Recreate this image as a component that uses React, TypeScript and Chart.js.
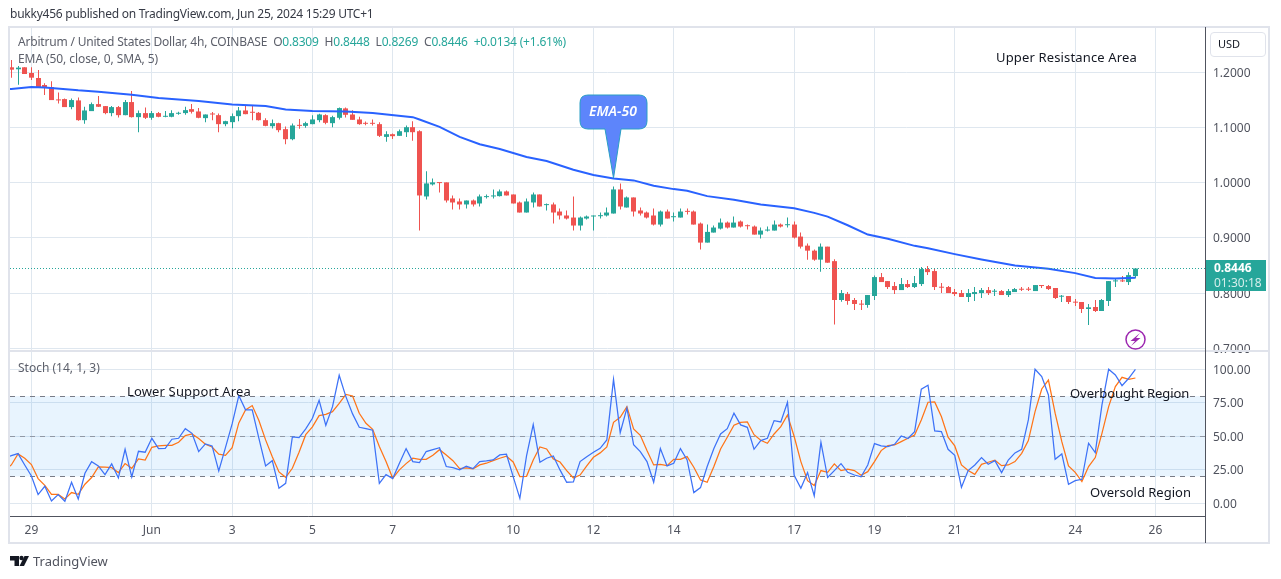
import { useEffect, useRef } from 'react';
import Chart from 'chart.js/auto';

const opens = [
  1.2091,1.2055,1.2091,1.1988,1.1897,1.1770,1.1733,1.1509,1.1515,1.1370,
  1.1491,1.1133,1.1297,1.1424,1.1388,1.1261,1.1370,1.1224,1.1461,1.1188,
  1.1261,1.1176,1.1261,1.1194,1.1194,1.1249,1.1261,1.1333,1.1291,1.1170,
  1.1242,1.1224,1.1061,1.1097,1.1206,1.1309,1.1279,1.1267,1.1133,1.1024,
  1.1079,1.0970,1.0788,1.1043,1.1030,1.1061,1.1133,1.1224,1.1079,1.1176,
  1.1346,1.1236,1.1146,1.1079,1.1079,1.1061,1.0830,1.0879,1.0849,1.0915,
  1.1006,1.0933,0.9751,0.9969,1.0006,1.0006,0.9715,0.9660,0.9606,0.9678,
  0.9624,0.9739,0.9751,0.9757,0.9842,0.9787,0.9642,0.9460,0.9642,0.9787,
  0.9594,0.9606,0.9478,0.9406,0.9369,0.9224,0.9351,0.9388,0.9393,0.9406,
  0.9442,0.9878,0.9551,0.9733,0.9497,0.9460,0.9406,0.9242,0.9478,0.9375,
  0.9369,0.9484,0.9478,0.9260,0.8915,0.9097,0.9169,0.9278,0.9188,0.9297,
  0.9224,0.9206,0.9060,0.9133,0.9133,0.9242,0.9230,0.9242,0.9024,0.8860,
  0.8769,0.8606,0.8842,0.8579,0.7875,0.7983,0.7875,0.7803,0.7785,0.7947,
  0.8290,0.8218,0.8128,0.8055,0.8164,0.8110,0.8164,0.8435,0.8399,0.8110,
  0.8110,0.8019,0.8001,0.7929,0.7983,0.8001,0.8055,0.8025,0.8037,0.7965,
  0.8019,0.8073,0.8073,0.8037,0.8140,0.8128,0.8092,0.7935,0.7947,0.7839,
  0.7839,0.7712,0.7748,0.7676,0.7857,0.8212,0.8224,0.8200,0.8309,
];
const highs = [
  1.2224,1.2115,1.2091,1.2091,1.2042,1.1800,1.1836,1.1636,1.1527,1.1527,
  1.1545,1.1376,1.1455,1.1570,1.1388,1.1388,1.1388,1.1497,1.1661,1.1309,
  1.1364,1.1297,1.1279,1.1297,1.1315,1.1285,1.1376,1.1424,1.1352,1.1236,
  1.1279,1.1255,1.1121,1.1255,1.1370,1.1400,1.1388,1.1279,1.1170,1.1146,
  1.1085,1.1018,1.1073,1.1152,1.1103,1.1224,1.1249,1.1242,1.1212,1.1364,
  1.1364,1.1315,1.1194,1.1109,1.1146,1.1097,1.0933,1.0891,1.0964,1.1036,
  1.1115,1.0951,1.0206,1.0078,1.0006,1.0006,0.9769,0.9715,0.9678,0.9697,
  0.9787,0.9787,0.9878,0.9878,0.9860,0.9787,0.9660,0.9715,0.9824,0.9787,
  0.9624,0.9642,0.9533,0.9497,0.9751,0.9388,0.9406,0.9406,0.9460,0.9551,
  0.9933,0.9987,0.9751,0.9733,0.9551,0.9478,0.9533,0.9497,0.9515,0.9460,
  0.9533,0.9533,0.9497,0.9278,0.9242,0.9224,0.9351,0.9297,0.9388,0.9315,
  0.9242,0.9224,0.9188,0.9206,0.9315,0.9260,0.9369,0.9297,0.9097,0.8897,
  0.8788,0.8897,0.8842,0.8615,0.8055,0.8019,0.7911,0.7875,0.7965,0.8320,
  0.8362,0.8218,0.8200,0.8272,0.8236,0.8308,0.8471,0.8489,0.8435,0.8182,
  0.8128,0.8073,0.8055,0.8073,0.8110,0.8092,0.8110,0.8073,0.8055,0.8073,
  0.8092,0.8110,0.8110,0.8146,0.8146,0.8146,0.8092,0.7965,0.7947,0.7893,
  0.7839,0.7803,0.7875,0.7893,0.8218,0.8254,0.8308,0.8380,0.8448,
];
const lows = [
  1.1903,1.1776,1.1970,1.1861,1.1727,1.1588,1.1497,1.1436,1.1370,1.1333,
  1.1121,1.1067,1.1297,1.1370,1.1242,1.1206,1.1182,1.1224,1.1182,1.0915,
  1.1152,1.1139,1.1188,1.1188,1.1188,1.1230,1.1230,1.1255,1.1170,1.1097,
  1.1133,1.0915,1.1024,1.0988,1.1115,1.1242,1.1133,1.1127,1.1024,1.0982,
  1.0915,1.0697,1.0770,1.0976,1.0994,1.1061,1.1097,1.1061,1.1006,1.1146,
  1.1182,1.1139,1.1049,1.1043,1.1036,1.0830,1.0740,1.0794,1.0849,1.0830,
  1.0758,0.9133,0.9697,0.9951,0.9824,0.9642,0.9515,0.9515,0.9533,0.9569,
  0.9569,0.9715,0.9715,0.9751,0.9769,0.9624,0.9460,0.9460,0.9551,0.9569,
  0.9497,0.9260,0.9333,0.9333,0.9133,0.9133,0.9333,0.9133,0.9351,0.9388,
  0.9442,0.9515,0.9551,0.9388,0.9406,0.9351,0.9224,0.9206,0.9351,0.9297,
  0.9369,0.9424,0.9242,0.8788,0.8915,0.9097,0.9151,0.9169,0.9188,0.9188,
  0.9151,0.9060,0.8988,0.9115,0.9133,0.9188,0.9188,0.8988,0.8806,0.8606,
  0.8588,0.8388,0.8551,0.7429,0.7845,0.7790,0.7694,0.7694,0.7736,0.7875,
  0.8200,0.8073,0.7983,0.8055,0.8092,0.8092,0.8128,0.8326,0.8055,0.8001,
  0.8001,0.7947,0.7929,0.7839,0.7857,0.7911,0.7965,0.7947,0.7965,0.7929,
  0.8019,0.8037,0.8037,0.8037,0.8092,0.8055,0.7893,0.7839,0.7803,0.7766,
  0.7640,0.7423,0.7658,0.7676,0.7766,0.8110,0.8200,0.8146,0.8269,
];
const closes = [
  1.2048,1.2085,1.1970,1.1903,1.1727,1.1727,1.1497,1.1491,1.1370,1.1497,
  1.1133,1.1309,1.1424,1.1376,1.1261,1.1370,1.1224,1.1461,1.1188,1.1261,
  1.1176,1.1261,1.1194,1.1200,1.1261,1.1267,1.1315,1.1285,1.1176,1.1236,
  1.1236,1.1061,1.1115,1.1206,1.1309,1.1242,1.1267,1.1133,1.1030,1.1079,
  1.0952,1.0788,1.1037,1.1030,1.1079,1.1146,1.1236,1.1085,1.1188,1.1352,
  1.1230,1.1139,1.1061,1.1067,1.1067,1.0849,1.0879,1.0843,1.0933,1.1006,
  1.0915,0.9769,0.9987,1.0006,0.9993,0.9678,0.9642,0.9606,0.9678,0.9606,
  0.9751,0.9757,0.9769,0.9842,0.9769,0.9624,0.9460,0.9660,0.9787,0.9569,
  0.9606,0.9460,0.9406,0.9351,0.9224,0.9369,0.9388,0.9400,0.9412,0.9460,
  0.9878,0.9569,0.9733,0.9478,0.9442,0.9369,0.9242,0.9478,0.9351,0.9388,
  0.9478,0.9472,0.9242,0.8915,0.9109,0.9188,0.9278,0.9188,0.9278,0.9206,
  0.9212,0.9060,0.9133,0.9151,0.9242,0.9206,0.9242,0.9006,0.8842,0.8769,
  0.8606,0.8842,0.8551,0.7875,0.8001,0.7857,0.7803,0.7791,0.7965,0.8290,
  0.8200,0.8110,0.8055,0.8164,0.8110,0.8182,0.8435,0.8380,0.8110,0.8098,
  0.8001,0.7983,0.7929,0.8001,0.8019,0.8055,0.8001,0.8037,0.7965,0.8037,
  0.8073,0.8061,0.8061,0.8146,0.8128,0.8073,0.7911,0.7947,0.7839,0.7827,
  0.7712,0.7742,0.7676,0.7875,0.8218,0.8224,0.8212,0.8326,0.8446,
];

// EMA-50 read at the bars where the line bends
const emaBars = [-1,0,3,5,10,13,18,22,28,33,38,41,45,50,54,60,61,64,67,70,73,77,80,84,87,90,93,96,99,101,104,108,112,117,120,122,125,128,131,135,137,141,145,150,155,159,162,165,168];
const emaValues = [1.1690,1.1697,1.1733,1.1727,1.1673,1.1649,1.1594,1.1533,1.1479,1.1418,1.1388,1.1327,1.1297,1.1291,1.1261,1.1188,1.1145,1.1012,1.0830,1.0696,1.0612,1.0466,1.0393,1.0236,1.0139,1.0078,1.0042,0.9945,0.9884,0.9854,0.9757,0.9691,0.9606,0.9537,0.9454,0.9385,0.9229,0.9061,0.8983,0.8856,0.8814,0.8706,0.8609,0.8501,0.8441,0.8362,0.8272,0.8266,0.8278];

const stochK = [
  35.6,37.1,28.6,20.4,6.5,12.7,1.7,6.5,1.5,15.7,
  3.2,22.4,31.1,27.9,21.4,29.4,18.9,40.3,19.7,38.8,
  38.1,48.5,40.8,41.0,47.8,48.5,55.7,52.2,38.6,44.3,
  42.8,24.1,41.5,59.2,80.3,69.7,69.7,48.5,27.9,31.8,
  11.2,14.9,49.5,49.0,55.5,63.4,76.9,58.2,72.1,95.5,
  79.6,66.7,56.7,55.7,54.5,14.9,21.4,18.4,29.9,40.8,
  31.1,30.3,38.6,40.0,41.5,27.4,26.6,24.9,27.6,25.9,
  31.1,31.6,32.3,36.1,36.6,19.9,3.7,35.3,58.7,30.6,
  33.6,35.3,24.9,15.7,15.9,31.1,34.8,38.1,41.0,47.3,
  92.5,52.7,71.1,43.8,38.6,31.1,15.7,40.8,27.9,29.9,
  40.8,32.3,8.0,11.7,27.4,40.8,51.7,55.7,67.2,58.5,
  56.7,40.3,46.8,48.5,61.7,60.7,75.4,20.9,11.2,22.9,
  5.5,45.5,19.2,24.4,29.6,23.1,21.1,19.7,28.6,44.5,
  42.8,42.3,44.0,50.2,48.3,53.5,85.1,88.1,54.0,53.5,
  40.3,35.8,11.9,24.4,28.6,34.1,29.1,31.8,22.9,32.3,
  37.6,40.3,62.2,100,94.5,80.8,32.8,36.8,14.2,16.9,
  17.9,44.8,37.8,73.4,100,95.8,87.8,93.3,100,
];
const stochD = [
  28.6,36.8,33.6,28.9,18.4,13.4,6.7,6.7,3.2,8.0,
  6.7,14.2,19.2,27.1,26.9,26.6,22.9,29.6,26.1,33.1,
  32.3,41.8,42.8,43.3,43.3,45.5,50.5,51.7,48.3,44.0,
  42.0,36.6,35.8,41.5,60.0,69.7,72.9,61.7,47.3,34.8,
  23.4,19.4,26.1,38.1,51.2,57.0,65.4,66.4,68.4,74.6,
  81.3,80.1,67.2,59.7,55.2,42.3,31.1,18.7,24.9,29.6,
  33.6,32.8,32.8,35.8,40.0,36.1,31.8,25.9,26.4,25.6,
  28.6,29.9,31.8,33.6,35.1,30.8,19.9,20.1,32.3,42.0,
  40.5,33.1,30.8,24.4,18.9,21.1,27.9,34.3,37.6,42.0,
  60.4,64.2,72.1,55.5,50.7,39.3,28.6,29.1,28.1,32.8,
  32.8,34.8,26.9,17.4,15.7,27.4,40.5,49.3,58.2,60.4,
  60.7,51.2,47.0,44.8,51.7,57.2,65.9,49.8,31.1,16.9,
  13.2,24.4,23.1,29.4,24.4,25.4,24.4,20.9,23.6,31.1,
  39.3,43.0,43.5,46.0,48.5,51.0,62.2,75.4,75.6,64.7,
  49.3,42.8,28.6,24.4,21.6,29.1,30.6,32.1,28.1,28.6,
  31.1,37.3,46.8,68.4,85.3,92.0,67.2,46.0,27.9,23.1,
  16.2,27.4,34.1,52.2,72.1,87.1,94.0,92.5,93.5,
];
// the bar just off the left edge
const stochKBefore = 33.5;
const stochDBefore = 24.5;

const dateTickBars = [3,21,33,45,57,75,87,99,117,129,141,159,171];
const dateTickLabels = ['29','Jun','3','5','7','10','12','14','17','19','21','24','26'];
const priceTicks = [0.7,0.8,0.9,1.0,1.1,1.2];
const stochTicks = [0,25,50,75,100];
const stochLevels = [80,50,20];
const lastPrice = 0.8446;
const calloutBar = 90;
const calloutPrice = 1.0084;

const UP = '#26a69a';
const DOWN = '#ef5350';
const GRID = '#dfe7ef';
const FONT = '"Noto Sans", sans-serif';

const overlayPlugin = {
  id: 'overlay',
  // snap candles to whole pixels so bodies and wicks stay sharp
  afterDatasetsUpdate(chart: any) {
    chart.data.datasets.forEach((ds: any, idx: number) => {
      if (ds.type !== 'bar') return;
      chart.getDatasetMeta(idx).data.forEach((el: any) => {
        el.x = Math.floor(el.x) + 0.5;
      });
    });
  },
  beforeDatasetsDraw(chart: any) {
    const { ctx, chartArea, scales } = chart;
    const s = scales.yStoch;
    ctx.save();
    ctx.fillStyle = 'rgba(33,150,243,0.1)';
    ctx.fillRect(chartArea.left, s.getPixelForValue(80), chartArea.width, s.getPixelForValue(20) - s.getPixelForValue(80));
    ctx.strokeStyle = '#787b86';
    ctx.lineWidth = 1;
    ctx.setLineDash([5, 5]);
    stochLevels.forEach((lvl) => {
      const y = Math.round(s.getPixelForValue(lvl)) + 0.5;
      ctx.globalAlpha = lvl === 50 ? 0.7 : 1;
      ctx.beginPath();
      ctx.moveTo(chartArea.left, y);
      ctx.lineTo(chartArea.right, y);
      ctx.stroke();
    });
    ctx.restore();
  },
  afterDraw(chart: any) {
    const { ctx, chartArea, scales } = chart;
    const px = scales.x;
    const py = scales.yPrice;
    ctx.save();

    // last price line
    const lastY = Math.round(py.getPixelForValue(lastPrice)) + 0.5;
    ctx.strokeStyle = UP;
    ctx.lineWidth = 1;
    ctx.setLineDash([1, 2]);
    ctx.beginPath();
    ctx.moveTo(chartArea.left, lastY);
    ctx.lineTo(chartArea.right, lastY);
    ctx.stroke();
    ctx.setLineDash([]);

    // frame and pane separators
    ctx.strokeStyle = '#e0e3eb';
    ctx.lineWidth = 2;
    ctx.strokeRect(9, 27, 1260, 516);
    ctx.beginPath();
    ctx.moveTo(chartArea.left, 351);
    ctx.lineTo(1268, 351);
    ctx.stroke();
    ctx.strokeStyle = '#50535e';
    ctx.lineWidth = 1;
    ctx.beginPath();
    ctx.moveTo(1205.5, 27);
    ctx.lineTo(1205.5, 543);
    ctx.moveTo(chartArea.left, 516.5);
    ctx.lineTo(1205.5, 516.5);
    ctx.stroke();

    // price label on the axis
    ctx.fillStyle = UP;
    ctx.fillRect(1206, 260, 60, 31);

    // EMA-50 balloon
    const tipX = px.getPixelForValue(calloutBar);
    const tipY = py.getPixelForValue(calloutPrice);
    ctx.fillStyle = '#5d85fb';
    ctx.strokeStyle = '#2a9fc4';
    ctx.lineWidth = 1;
    ctx.beginPath();
    ctx.moveTo(588, 95);
    ctx.lineTo(639, 95);
    ctx.quadraticCurveTo(647, 95, 647, 103);
    ctx.lineTo(647, 121);
    ctx.quadraticCurveTo(647, 129, 639, 129);
    ctx.lineTo(621, 129);
    ctx.lineTo(tipX, tipY);
    ctx.lineTo(605, 129);
    ctx.lineTo(588, 129);
    ctx.quadraticCurveTo(580, 129, 580, 121);
    ctx.lineTo(580, 103);
    ctx.quadraticCurveTo(580, 95, 588, 95);
    ctx.closePath();
    ctx.fill();
    ctx.stroke();

    // flash icon
    ctx.strokeStyle = '#9c27b0';
    ctx.lineWidth = 1.5;
    ctx.beginPath();
    ctx.arc(1135.5, 339.5, 9.5, 0, Math.PI * 2);
    ctx.stroke();
    ctx.fillStyle = '#9c27b0';
    ctx.beginPath();
    ctx.moveTo(1140, 333);
    ctx.lineTo(1130.5, 341);
    ctx.lineTo(1135, 341);
    ctx.lineTo(1131, 346);
    ctx.lineTo(1140.5, 338);
    ctx.lineTo(1136, 338);
    ctx.closePath();
    ctx.fill();

    // TradingView mark
    ctx.fillStyle = '#131722';
    ctx.beginPath();
    ctx.moveTo(10, 556);
    ctx.lineTo(19, 556);
    ctx.lineTo(19, 566);
    ctx.lineTo(14.5, 566);
    ctx.lineTo(14.5, 560.5);
    ctx.lineTo(10, 560.5);
    ctx.closePath();
    ctx.fill();
    ctx.beginPath();
    ctx.arc(21.5, 558, 2.2, 0, Math.PI * 2);
    ctx.fill();
    ctx.beginPath();
    ctx.moveTo(24.5, 556);
    ctx.lineTo(29, 556);
    ctx.lineTo(24, 566);
    ctx.lineTo(19.5, 566);
    ctx.closePath();
    ctx.fill();

    ctx.restore();
  },
};

function Label({ x, y, children, style }: { x: number; y: number; children: any; style?: any }) {
  return (
    <div style={{ position: 'absolute', left: x, top: y, transform: 'translateY(-50%)', whiteSpace: 'pre', fontFamily: FONT, fontSize: 12, lineHeight: '16px', color: '#5d606b', ...style }}>
      {children}
    </div>
  );
}

export default function App() {
  const canvasRef = useRef<HTMLCanvasElement>(null);

  useEffect(() => {
    if (!canvasRef.current) return;
    const bars = opens.map((_, i) => i);
    const colors = bars.map((i) => (closes[i] >= opens[i] ? UP : DOWN));
    const chart = new Chart(canvasRef.current, {
      type: 'bar',
      data: {
        datasets: [
          {
            type: 'line',
            data: emaBars.map((b, i) => ({ x: b, y: emaValues[i] })),
            yAxisID: 'yPrice',
            borderColor: '#2962ff',
            borderWidth: 2,
            pointRadius: 0,
            order: 0,
          },
          {
            type: 'bar',
            data: bars.map((i) => ({ x: i, y: [opens[i], closes[i]] })),
            yAxisID: 'yPrice',
            backgroundColor: colors,
            barThickness: 5,
            minBarLength: 1,
            inflateAmount: 0,
            grouped: false,
            order: 1,
          },
          {
            type: 'bar',
            data: bars.map((i) => ({ x: i, y: [lows[i], highs[i]] })),
            yAxisID: 'yPrice',
            backgroundColor: colors,
            barThickness: 1,
            inflateAmount: 0,
            grouped: false,
            order: 2,
          },
          {
            type: 'line',
            data: [{ x: -1, y: stochKBefore }, ...bars.map((i) => ({ x: i, y: stochK[i] }))],
            yAxisID: 'yStoch',
            borderColor: '#3d72f7',
            borderWidth: 1.25,
            pointRadius: 0,
            order: 0,
          },
          {
            type: 'line',
            data: [{ x: -1, y: stochDBefore }, ...bars.map((i) => ({ x: i, y: stochD[i] }))],
            yAxisID: 'yStoch',
            borderColor: '#ff7417',
            borderWidth: 1.25,
            pointRadius: 0,
            order: 0,
          },
        ],
      } as any,
      options: {
        responsive: false,
        animation: false,
        events: [],
        layout: { padding: { left: 10, top: 27, right: 13, bottom: 36 } },
        plugins: { legend: { display: false }, tooltip: { enabled: false } },
        scales: {
          x: {
            type: 'linear',
            min: -0.2,
            max: 178.4,
            offset: false,
            afterBuildTicks: (axis: any) => {
              axis.ticks = dateTickBars.map((value) => ({ value }));
            },
            afterFit: (axis: any) => {
              axis.height = 27;
            },
            grid: { color: GRID, drawTicks: false, offset: false },
            border: { display: false },
            ticks: {
              autoSkip: false,
              maxRotation: 0,
              padding: 7,
              color: '#50535e',
              font: { family: FONT, size: 12 },
              callback: (value: any) => dateTickLabels[dateTickBars.indexOf(value)],
            },
          },
          yPrice: {
            type: 'linear',
            position: 'right',
            stack: 'panes',
            stackWeight: 325,
            min: 0.6933,
            max: 1.2821,
            afterBuildTicks: (axis: any) => {
              axis.ticks = priceTicks.map((value) => ({ value }));
            },
            afterFit: (axis: any) => {
              axis.width = 63;
            },
            grid: { color: GRID, drawTicks: false },
            border: { display: false },
            ticks: {
              padding: 8,
              labelOffset: 1,
              color: '#50535e',
              font: { family: FONT, size: 12 },
              callback: (value: any) => Number(value).toFixed(4),
            },
          },
          yStoch: {
            type: 'linear',
            position: 'right',
            stack: 'panes',
            stackWeight: 164,
            min: -9.5,
            max: 112.9,
            afterBuildTicks: (axis: any) => {
              axis.ticks = stochTicks.map((value) => ({ value }));
            },
            afterFit: (axis: any) => {
              axis.width = 63;
            },
            grid: { color: GRID, drawTicks: false },
            border: { display: false },
            ticks: {
              padding: 8,
              labelOffset: 1,
              color: '#50535e',
              font: { family: FONT, size: 12 },
              callback: (value: any) => Number(value).toFixed(2),
            },
          },
        },
      },
      plugins: [overlayPlugin],
    } as any);

    return () => {
      chart.destroy();
    };
  }, []);

  const val = { color: UP };
  return (
    <div style={{ position: 'fixed', left: 0, top: 0, width: 1281, height: 579, background: '#fff', overflow: 'hidden' }}>
      <canvas ref={canvasRef} width={1281} height={579} style={{ display: 'block' }}></canvas>
      <Label x={10} y={14} style={{ color: '#363a45', letterSpacing: -0.24 }}>bukky456 published on TradingView.com, Jun 25, 2024 15:29 UTC+1</Label>
      <Label x={18} y={42} style={{ letterSpacing: -0.19 }}>
        Arbitrum / United States Dollar, 4h, COINBASE{'  '}O<span style={val}>0.8309</span>{'  '}H<span style={val}>0.8448</span>{'  '}L<span style={val}>0.8269</span>{'  '}C<span style={val}>0.8446</span>{'  '}<span style={val}>+0.0134 (+1.61%)</span>
      </Label>
      <Label x={18} y={59} style={{ letterSpacing: -0.08 }}>EMA (50, close, 0, SMA, 5)</Label>
      <Label x={18} y={368}>Stoch (14, 1, 3)</Label>
      <Label x={996} y={57} style={{ color: '#131722', fontSize: 13, letterSpacing: 0.15 }}>Upper Resistance Area</Label>
      <Label x={127} y={391} style={{ color: '#131722', fontSize: 13, letterSpacing: 0.15 }}>Lower Support Area</Label>
      <Label x={1070} y={393} style={{ color: '#131722', fontSize: 13, letterSpacing: -0.05 }}>Overbought Region</Label>
      <Label x={1090} y={492} style={{ color: '#131722', fontSize: 13 }}>Oversold Region</Label>
      <Label x={589} y={111} style={{ color: '#fff', fontSize: 14, fontStyle: 'italic', fontWeight: 600 }}>EMA-50</Label>
      <Label x={1214} y={268} style={{ color: '#fff', fontWeight: 700 }}>0.8446</Label>
      <Label x={1214} y={283} style={{ color: '#d4eeeb' }}>01:30:18</Label>
      <Label x={33} y={561} style={{ color: '#50535e', fontSize: 13 }}>TradingView</Label>
      <div style={{ position: 'absolute', left: 1210, top: 32, width: 54, height: 23, border: '1px solid #e0e3eb', borderRadius: 4 }}></div>
      <Label x={1218} y={44} style={{ color: '#131722', fontSize: 11 }}>USD</Label>
    </div>
  );
}
